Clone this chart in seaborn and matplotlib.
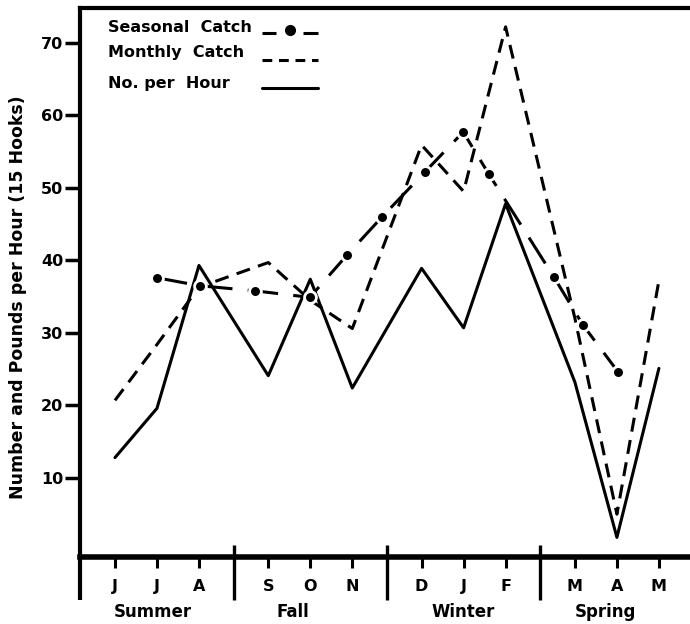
import numpy as np
import matplotlib
matplotlib.use("Agg")
import matplotlib.pyplot as plt
import matplotlib.transforms as mtransforms
import seaborn as sns

# ---- data -----------------------------------------------------------------
month_labels = ["J", "J", "A", "S", "O", "N", "D", "J", "F", "M", "A", "M"]
month_season = [0, 0, 0, 1, 1, 1, 2, 2, 2, 3, 3, 3]
season_names = ["Summer", "Fall", "Winter", "Spring"]

monthly_catch = [20.7, 28.4, 36.3, 39.7, 34.5, 30.6, 55.9, 49.5, 72.2, 32.0, 5.0, 37.2]
number_per_hour = [12.8, 19.6, 39.3, 24.1, 37.4, 22.4, 38.9, 30.7, 47.8, 23.2, 1.8, 25.1]

# seasonal catch is plotted at fractional month positions
seasonal_pos = [1.0, 2.02, 3.33, 4.64, 5.52, 6.36, 7.38, 8.29, 8.9, 10.45, 11.14, 11.98]
seasonal_catch = [37.6, 36.5, 35.8, 34.9, 40.7, 46.0, 52.2, 57.7, 51.9, 37.7, 31.1, 24.6]

y_ticks = [10, 20, 30, 40, 50, 60, 70]

# ---- layout helpers ---------------------------------------------------------
SEASON_GAP = 0.65
month_pos = np.array([i + SEASON_GAP * s for i, s in enumerate(month_season)])

sns.set_theme(style="white")
plt.rcParams["font.family"] = ["DejaVu Sans"]
plt.rcParams["font.weight"] = "bold"
for key in ("text.color", "axes.labelcolor", "xtick.color", "ytick.color",
            "axes.edgecolor"):
    plt.rcParams[key] = "black"

fig = plt.figure(figsize=(6.9, 6.24), dpi=100)
ax = fig.add_axes([0.1159, 0.1074, 0.8841, 0.8798])

lw = 2.2
sns.lineplot(x=month_pos, y=number_per_hour, ax=ax, color="black",
             linewidth=lw, sort=False)
sns.lineplot(x=month_pos, y=monthly_catch, ax=ax, color="black",
             linewidth=lw, sort=False, linestyle=(0, (4.6, 2.8)))
sns.lineplot(x=seasonal_pos, y=seasonal_catch, ax=ax, color="black",
             linewidth=lw, sort=False, linestyle=(0, (10, 5)),
             marker="o", markersize=8.5, markerfacecolor="black",
             markeredgecolor="white", markeredgewidth=2.0)

ax.set_xlim(-0.833, 13.69)
ax.set_ylim(-0.9, 74.8)

# spines
for side in ("top", "left"):
    ax.spines[side].set_linewidth(3.0)
    ax.spines[side].set_color("black")
ax.spines["bottom"].set_linewidth(4.0)
ax.spines["bottom"].set_color("black")
ax.spines["right"].set_visible(False)

# y ticks
ax.set_yticks(y_ticks)
ax.set_yticklabels([str(t) for t in y_ticks], fontsize=11.5, fontweight="bold",
                   color="black")
ax.tick_params(axis="y", direction="out", length=11, width=2.5, pad=1,
               left=True, colors="black")

# month ticks
ax.set_xticks(month_pos)
ax.set_xticklabels(month_labels, fontsize=11.5, fontweight="bold",
                   color="black")
ax.tick_params(axis="x", direction="out", length=8, width=2.2, pad=8,
               bottom=True, colors="black")

trans = mtransforms.blended_transform_factory(ax.transData, ax.transAxes)

# season dividers, halfway between neighbouring seasons
for s in range(1, len(season_names)):
    last = month_pos[[i for i, m in enumerate(month_season) if m == s - 1][-1]]
    first = month_pos[[i for i, m in enumerate(month_season) if m == s][0]]
    xd = (last + first) / 2
    ax.plot([xd, xd], [0.022, -0.078], transform=trans, color="black",
            linewidth=2.4, clip_on=False, solid_capstyle="butt")

# left axis line runs down through the month row
ax.plot([0, 0], [0, -0.078], transform=ax.transAxes, color="black",
        linewidth=3.0, clip_on=False, solid_capstyle="butt")

# season names
season_centres = [0.9, 4.24, 8.3, 11.67]
for name, xc in zip(season_names, season_centres):
    ax.text(xc, -0.100, name, transform=trans, ha="center", va="center",
            fontsize=12, fontweight="bold", color="black")

# axis title
fig.text(0.026, 0.524, "Number and Pounds per Hour (15 Hooks)", rotation=90,
         ha="center", va="center", fontsize=12.5, fontweight="bold",
         color="black")

# key in the upper left corner: label first, line sample after
key_x = 0.046
key_line = (0.298, 0.390)
key_rows = [
    ("Seasonal  Catch", 0.956, 0.955, "seasonal"),
    ("Monthly  Catch", 0.911, 0.905, "monthly"),
    ("No. per  Hour", 0.854, 0.854, "hour"),
]
for label, ty, ly, kind in key_rows:
    ax.text(key_x, ty, label, transform=ax.transAxes, ha="left",
            va="baseline", fontsize=11.5, fontweight="bold", color="black")
    x0, x1 = key_line
    if kind == "seasonal":
        xm = (x0 + x1) / 2
        ax.plot([x0, xm - 0.022], [ly, ly], transform=ax.transAxes,
                color="black", linewidth=lw, solid_capstyle="butt")
        ax.plot([xm + 0.022, x1], [ly, ly], transform=ax.transAxes,
                color="black", linewidth=lw, solid_capstyle="butt")
        ax.plot([xm], [ly + 0.004], transform=ax.transAxes, marker="o",
                markersize=8, color="black", markeredgewidth=0)
    elif kind == "monthly":
        ax.plot([x0, x1], [ly, ly], transform=ax.transAxes, color="black",
                linewidth=lw, linestyle=(0, (3.2, 2.2)))
    else:
        ax.plot([x0, x1], [ly, ly], transform=ax.transAxes, color="black",
                linewidth=lw)

ax.grid(False)
ax.set_xlabel("")
ax.set_ylabel("")

fig.savefig("out.png", dpi=100, facecolor="white")
